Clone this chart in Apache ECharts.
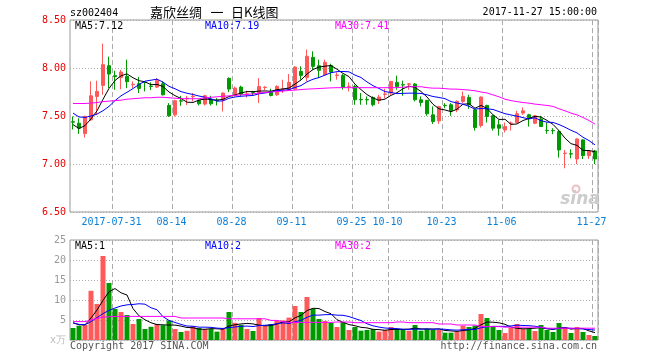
<!DOCTYPE html>
<html><head><meta charset="utf-8">
<script src="https://cdn.jsdelivr.net/npm/echarts/dist/echarts.min.js"></script>
<style>html,body{margin:0;padding:0;background:#fff}#c{width:660px;height:360px}</style>
</head><body><div id="c"></div>
<script>
const dates = [
'2017-07-20','2017-07-21','2017-07-24','2017-07-25','2017-07-26','2017-07-27','2017-07-28','2017-07-31',
'2017-08-01','2017-08-02','2017-08-03','2017-08-04','2017-08-07','2017-08-08','2017-08-09','2017-08-10','2017-08-11',
'2017-08-14','2017-08-15','2017-08-16','2017-08-17','2017-08-18','2017-08-21','2017-08-22','2017-08-23','2017-08-24','2017-08-25',
'2017-08-28','2017-08-29','2017-08-30','2017-08-31',
'2017-09-01','2017-09-04','2017-09-05','2017-09-06','2017-09-07','2017-09-08','2017-09-11','2017-09-12','2017-09-13','2017-09-14','2017-09-15',
'2017-09-18','2017-09-19','2017-09-20','2017-09-21','2017-09-22','2017-09-25','2017-09-26','2017-09-27','2017-09-28','2017-09-29',
'2017-10-09','2017-10-10','2017-10-11','2017-10-12','2017-10-13','2017-10-16','2017-10-17','2017-10-18','2017-10-19','2017-10-20',
'2017-10-23','2017-10-24','2017-10-25','2017-10-26','2017-10-27','2017-10-30','2017-10-31',
'2017-11-01','2017-11-02','2017-11-03','2017-11-06','2017-11-07','2017-11-08','2017-11-09','2017-11-10',
'2017-11-13','2017-11-14','2017-11-15','2017-11-16','2017-11-17','2017-11-20','2017-11-21','2017-11-22','2017-11-23','2017-11-24','2017-11-27'];

const tickDates  = ['2017-07-31','2017-08-14','2017-08-28','2017-09-11','2017-09-25','2017-10-10','2017-10-23','2017-11-06','2017-11-27'];
const tickLabels = ['2017-07-31','08-14','08-28','09-11','09-25','10-10','10-23','11-06','11-27'];

const openP = [7.440,7.425,7.317,7.460,7.704,7.819,8.024,7.920,7.902,7.913,
 7.826,7.836,7.851,7.811,7.801,7.836,7.610,7.512,7.658,7.681,
 7.701,7.662,7.624,7.676,7.663,7.669,7.892,7.714,7.801,7.726,
 7.743,7.739,7.796,7.756,7.721,7.778,7.774,7.780,7.965,7.902,
 8.111,8.024,7.930,8.024,7.923,7.923,7.806,7.808,7.672,7.671,
 7.693,7.662,7.726,7.739,7.850,7.826,7.831,7.833,7.669,7.662,
 7.512,7.449,7.611,7.617,7.564,7.652,7.693,7.564,7.401,7.610,
 7.502,7.408,7.355,7.423,7.432,7.530,7.512,7.425,7.470,7.351,
 7.350,7.338,7.110,7.107,7.052,7.251,7.087,7.136];
const closeP = [7.436,7.373,7.495,7.711,7.756,8.035,7.937,7.910,7.958,7.857,
 7.830,7.787,7.848,7.808,7.871,7.721,7.502,7.659,7.655,7.685,
 7.705,7.627,7.711,7.627,7.660,7.739,7.780,7.791,7.728,7.730,
 7.740,7.808,7.800,7.714,7.808,7.782,7.850,8.010,7.923,8.122,
 8.017,7.976,8.059,7.958,7.927,7.798,7.810,7.669,7.669,7.668,
 7.617,7.697,7.730,7.861,7.808,7.823,7.835,7.669,7.641,7.523,
 7.443,7.599,7.608,7.554,7.652,7.704,7.617,7.380,7.697,7.495,
 7.373,7.373,7.390,7.427,7.523,7.554,7.477,7.502,7.390,7.348,
 7.347,7.146,7.113,7.104,7.261,7.087,7.136,7.052];
const lowP = [7.360,7.314,7.275,7.450,7.512,7.721,7.791,7.773,7.780,7.791,
 7.790,7.739,7.756,7.770,7.791,7.714,7.491,7.495,7.606,7.615,
 7.652,7.610,7.610,7.610,7.610,7.547,7.749,7.704,7.704,7.693,
 7.720,7.634,7.770,7.704,7.710,7.739,7.767,7.770,7.878,7.861,
 7.983,7.895,7.920,7.860,7.878,7.774,7.756,7.617,7.617,7.617,
 7.600,7.624,7.686,7.721,7.774,7.711,7.774,7.652,7.600,7.502,
 7.418,7.418,7.582,7.502,7.540,7.634,7.575,7.348,7.380,7.432,
 7.348,7.296,7.328,7.348,7.425,7.512,7.390,7.415,7.387,7.314,
 7.310,7.066,6.955,7.059,7.000,7.052,7.052,7.000];
const highP = [7.495,7.477,7.505,7.861,7.868,8.254,8.118,7.972,7.980,8.087,
 7.861,7.906,7.860,7.850,7.895,7.861,7.634,7.669,7.710,7.710,
 7.740,7.670,7.721,7.711,7.686,7.746,7.902,7.808,7.815,7.763,
 7.760,7.895,7.810,7.784,7.820,7.878,7.937,8.017,8.017,8.192,
 8.174,8.087,8.087,8.045,7.955,7.937,7.850,7.826,7.739,7.704,
 7.704,7.721,7.784,7.864,7.920,7.868,7.843,7.843,7.704,7.669,
 7.600,7.606,7.634,7.634,7.662,7.756,7.721,7.575,7.704,7.617,
 7.512,7.460,7.432,7.443,7.554,7.589,7.523,7.512,7.502,7.432,
 7.373,7.355,7.146,7.153,7.268,7.258,7.146,7.146];

const ma5 = [7.41,7.37,7.40,7.47,7.554,7.674,7.787,7.870,7.919,7.939,
 7.898,7.868,7.856,7.826,7.829,7.807,7.750,7.712,7.682,7.644,
 7.641,7.666,7.677,7.671,7.666,7.673,7.703,7.719,7.740,7.754,
 7.754,7.759,7.761,7.758,7.774,7.782,7.791,7.833,7.875,7.937,
 7.984,8.010,8.019,8.026,7.987,7.944,7.910,7.832,7.775,7.723,
 7.687,7.664,7.676,7.715,7.743,7.784,7.811,7.799,7.755,7.698,
 7.622,7.575,7.563,7.545,7.571,7.623,7.627,7.581,7.610,7.579,
 7.512,7.464,7.466,7.412,7.417,7.453,7.474,7.497,7.489,7.454,
 7.413,7.347,7.269,7.212,7.194,7.142,7.140,7.128];
const ma10 = [7.53,7.49,7.485,7.50,7.52,7.555,7.60,7.66,7.71,7.747,
 7.786,7.828,7.863,7.873,7.884,7.853,7.809,7.784,7.754,7.737,
 7.724,7.708,7.695,7.677,7.655,7.657,7.685,7.698,7.706,7.710,
 7.714,7.731,7.740,7.749,7.764,7.768,7.775,7.797,7.817,7.856,
 7.883,7.901,7.926,7.951,7.962,7.964,7.960,7.926,7.901,7.855,
 7.816,7.787,7.754,7.745,7.733,7.736,7.738,7.738,7.735,7.721,
 7.703,7.693,7.681,7.650,7.635,7.623,7.601,7.572,7.578,7.575,
 7.568,7.546,7.524,7.511,7.498,7.483,7.469,7.482,7.451,7.436,
 7.433,7.411,7.383,7.351,7.324,7.278,7.244,7.199];
const ma30 = [7.63,7.63,7.63,7.635,7.64,7.65,7.655,7.66,7.665,7.675,
 7.68,7.685,7.69,7.69,7.695,7.695,7.69,7.685,7.68,7.68,
 7.68,7.68,7.69,7.695,7.70,7.705,7.71,7.715,7.72,7.725,
 7.73,7.74,7.745,7.75,7.755,7.76,7.765,7.77,7.775,7.78,
 7.783,7.786,7.79,7.793,7.795,7.795,7.795,7.795,7.795,7.795,
 7.795,7.795,7.795,7.795,7.795,7.80,7.805,7.805,7.805,7.795,
 7.79,7.79,7.785,7.78,7.78,7.775,7.77,7.763,7.75,7.74,
 7.72,7.70,7.675,7.66,7.65,7.64,7.634,7.624,7.617,7.61,
 7.60,7.575,7.554,7.53,7.512,7.484,7.453,7.415];

const volume = [3.0,3.55,3.75,12.3,9.0,21.0,14.25,7.75,7.0,6.25,
 4.0,5.25,2.75,3.3,4.0,3.7,4.9,2.75,2.0,2.3,
 3.4,3.0,2.75,2.75,2.1,2.9,7.0,4.3,3.8,2.75,
 2.25,5.5,3.5,4.0,4.75,4.9,5.6,8.5,7.0,10.75,
 7.8,5.25,4.75,4.3,3.25,4.5,2.5,3.25,2.33,2.5,
 2.75,2.1,2.5,3.25,2.75,2.75,2.33,3.75,2.33,2.75,
 2.5,2.5,1.83,1.83,2.1,3.6,3.25,3.6,6.5,5.5,
 3.4,2.5,1.75,3.0,4.0,2.75,2.75,2.25,3.75,2.5,
 2.0,4.25,3.1,1.75,3.25,2.0,1.25,1.0];
const volMa5 = [4.3,3.8,3.8,5.5,7.5,9.92,12.06,12.86,11.8,11.25,
 7.85,6.05,5.05,4.31,3.86,3.8,3.73,3.73,3.47,3.13,
 3.07,2.69,2.69,2.84,2.8,2.7,3.5,3.81,4.02,4.15,
 4.02,3.72,3.56,3.6,4.0,4.53,4.55,5.55,6.15,7.35,
 7.93,7.86,7.11,6.57,5.07,4.41,3.86,3.56,3.17,3.02,
 2.67,2.59,2.44,2.62,2.67,2.67,2.72,2.97,2.78,2.78,
 2.73,2.77,2.38,2.28,2.15,2.37,2.52,2.88,3.81,4.49,
 4.45,4.3,3.93,3.23,2.93,2.8,2.85,2.95,3.1,2.8,
 2.65,2.95,3.12,2.72,2.87,2.87,2.27,1.85];
const volMa10 = [4.3,3.9,3.8,4.6,5.6,6.6,7.4,8.0,8.5,8.79,
 8.89,9.06,8.96,8.06,7.56,5.83,4.89,4.39,3.89,3.5,
 3.44,3.21,3.21,3.16,2.97,2.89,3.1,3.25,3.43,3.48,
 3.36,3.61,3.69,3.81,4.08,4.28,4.14,4.56,4.88,5.68,
 6.23,6.21,6.33,6.36,6.21,6.17,5.86,5.34,4.87,4.05,
 3.54,3.23,3.0,2.9,2.85,2.67,2.66,2.71,2.7,2.73,
 2.7,2.75,2.68,2.53,2.47,2.55,2.65,2.63,3.05,3.32,
 3.41,3.41,3.41,3.52,3.71,3.63,3.58,3.44,3.17,2.87,
 2.73,2.9,3.04,2.91,2.84,2.76,2.61,2.49];
const volMa30 = [4.6,4.6,4.6,5.0,5.4,5.7,5.8,5.9,5.9,5.9,
 5.9,5.9,5.9,5.9,5.9,5.9,5.9,5.9,5.5,5.5,
 5.5,5.5,5.5,5.5,5.5,5.5,5.3,5.3,5.3,5.3,
 5.3,5.3,5.3,4.9,4.9,4.6,4.4,4.4,4.4,4.4,
 4.4,4.4,4.4,4.4,4.5,4.5,4.5,4.33,4.33,4.33,
 4.33,4.33,4.33,4.33,4.5,4.5,4.33,4.33,4.33,4.33,
 4.33,4.0,4.0,4.0,3.75,3.75,3.75,3.75,3.35,3.35,
 3.35,3.35,3.2,3.2,3.2,3.2,3.2,3.2,3.2,2.95,
 2.95,2.95,2.95,2.95,2.95,2.95,2.95,2.95];

const titleParts = ['嘉欣丝绸', '一', '日K线图'];
const codeText = 'sz002404';
const timeText = '2017-11-27 15:00:00';
const priceMaLabels = ['MA5:7.12', 'MA10:7.19', 'MA30:7.41'];
const volMaLabels = ['MA5:1', 'MA10:2', 'MA30:2'];

const RED = '#ff5959', GREEN = '#009a00';
const MA_COLORS = ['#000000', '#0000ff', '#ff00ff'];
const mono = "'DejaVu Sans Mono', 'Liberation Mono', monospace";
const cjk = "13px 'Noto Sans CJK SC', sans-serif";
const tickIdx = tickDates.map(d => dates.indexOf(d));
const isTick = i => tickIdx.indexOf(i) >= 0;

function xAxisFor(g, showLabel) {
  return {
    type: 'category', gridIndex: g, data: dates, boundaryGap: true,
    axisLine: {show: false}, axisTick: {show: false},
    axisLabel: {
      show: showLabel, interval: (i) => isTick(i),
      formatter: (v) => tickLabels[tickDates.indexOf(v)],
      color: '#0a7fd8', fontFamily: mono, fontSize: 10, margin: 5, padding: [0, 7, 0, 0]
    },
    splitLine: {show: true, interval: (i) => isTick(i), lineStyle: {color: '#aaaaaa', type: [5, 3], width: 1}}
  };
}

const chart = echarts.init(document.getElementById('c'), null, {renderer: 'canvas'});
const candleData = dates.map((d, i) => [openP[i], closeP[i], lowP[i], highP[i]]);

function lineSeries(data, color, xi) {
  return {type: 'line', xAxisIndex: xi, yAxisIndex: xi, data: data, showSymbol: false, symbol: 'none',
    silent: true, lineStyle: {color: color, width: 1}, itemStyle: {color: color}, z: 5};
}
function txt(text, x, y, color, align, font) {
  return {type: 'text', silent: true, z: 100, style: {text: text, x: x, y: y, fill: color,
    align: align || 'left', verticalAlign: 'middle', font: font || ('10px ' + mono)}};
}

chart.setOption({
  animation: false,
  backgroundColor: '#ffffff',
  grid: [
    {left: 70, top: 20, width: 528, height: 192, show: true, borderColor: '#999999', borderWidth: 1},
    {left: 70, top: 240, width: 528, height: 100, show: true, borderColor: '#999999', borderWidth: 1}
  ],
  xAxis: [xAxisFor(0, true), xAxisFor(1, false)],
  yAxis: [
    {type: 'value', gridIndex: 0, min: 6.5, max: 8.5, interval: 0.5,
      axisLine: {show: false}, axisTick: {show: false},
      axisLabel: {color: '#e80000', fontFamily: mono, fontSize: 10, margin: 4, formatter: v => v.toFixed(2)},
      splitLine: {lineStyle: {color: '#aaaaaa', type: [1, 2]}}},
    {type: 'value', gridIndex: 1, min: 0, max: 25, interval: 5,
      axisLine: {show: false}, axisTick: {show: false},
      axisLabel: {fontFamily: mono, fontSize: 10, margin: 4,
        formatter: v => v === 0 ? '{u|x万}' : String(v), color: '#999999',
        rich: {u: {color: '#bbbbbb', fontSize: 10, fontFamily: mono}}},
      splitLine: {lineStyle: {color: '#aaaaaa', type: [1, 2]}}}
  ],
  series: [
    {type: 'candlestick', xAxisIndex: 0, yAxisIndex: 0, data: candleData, barWidth: 4, silent: true,
      itemStyle: {color: RED, color0: GREEN, borderColor: RED, borderColor0: GREEN, borderWidth: 1}},
    lineSeries(ma5, MA_COLORS[0], 0),
    lineSeries(ma10, MA_COLORS[1], 0),
    lineSeries(ma30, MA_COLORS[2], 0),
    {type: 'bar', xAxisIndex: 1, yAxisIndex: 1, data: volume, barWidth: 5, silent: true,
      itemStyle: {color: p => closeP[p.dataIndex] > openP[p.dataIndex] ? RED : GREEN}},
    lineSeries(volMa5, MA_COLORS[0], 1),
    lineSeries(volMa10, MA_COLORS[1], 1),
    lineSeries(volMa30, MA_COLORS[2], 1)
  ],
  graphic: [
    txt(codeText, 70, 13, '#000'),
    txt(titleParts[0], 150, 12.5, '#000', 'left', cjk),
    txt(titleParts[1], 217, 12.5, '#000', 'center', cjk),
    txt(titleParts[2], 231, 12.5, '#000', 'left', cjk),
    txt(timeText, 597, 12.5, '#000', 'right'),
    txt(priceMaLabels[0], 75, 26, MA_COLORS[0]),
    txt(priceMaLabels[1], 205, 26, MA_COLORS[1]),
    txt(priceMaLabels[2], 335, 26, MA_COLORS[2]),
    txt(volMaLabels[0], 75, 246.5, MA_COLORS[0]),
    txt(volMaLabels[1], 205, 246.5, MA_COLORS[1]),
    txt(volMaLabels[2], 335, 246.5, MA_COLORS[2]),
    txt('Copyright 2017 SINA.COM', 70, 346, '#555'),
    txt('http://finance.sina.com.cn', 597, 346, '#555', 'right'),
    {type: 'circle', silent: true, z: 1, shape: {cx: 576, cy: 189, r: 3.5}, style: {fill: 'none', stroke: '#ecc0c0', lineWidth: 2}},
    txt('sina', 580, 200, '#cccccc', 'center', "italic bold 17px 'DejaVu Sans', sans-serif")
  ]
});
</script></body></html>
